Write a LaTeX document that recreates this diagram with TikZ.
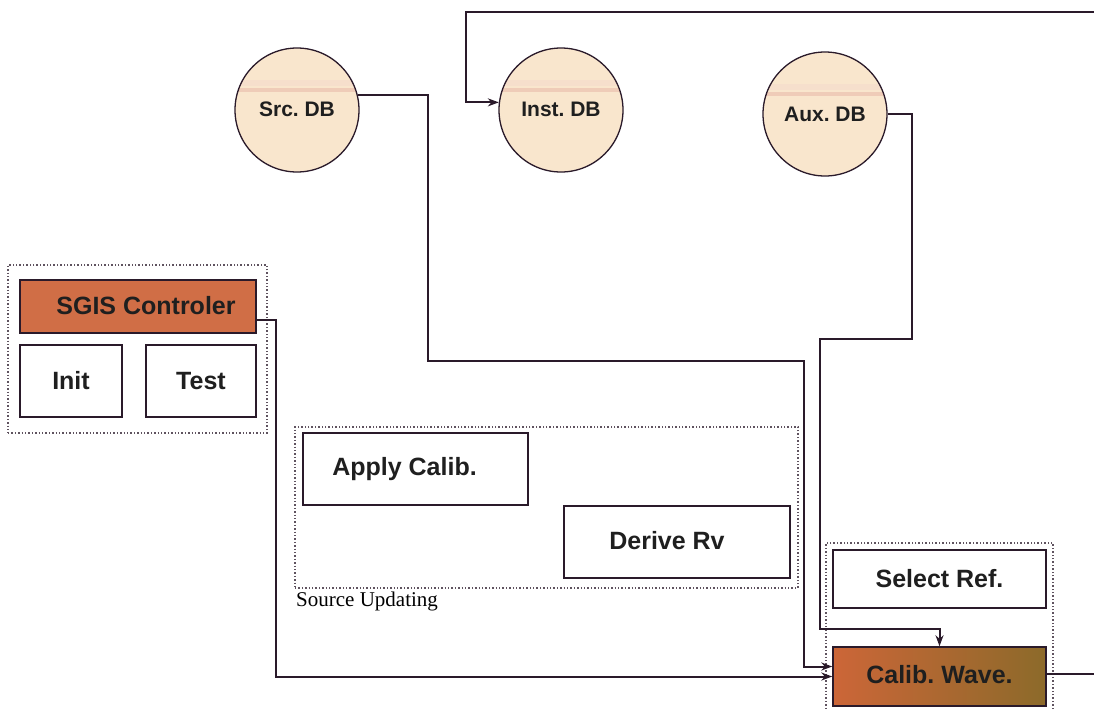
\documentclass[tikz,border=0pt]{standalone}
\usepackage{fontspec}
\setmainfont{Liberation Serif}
\setsansfont{Liberation Sans}
\usetikzlibrary{arrows.meta}
\frenchspacing
\definecolor{edge}{HTML}{2A1A2A}
\definecolor{dbfill}{HTML}{F9E6CD}
\definecolor{stripe}{HTML}{E8B8A8}
\definecolor{ctrl}{HTML}{D06E46}
\definecolor{calibL}{HTML}{CC6638}
\definecolor{calibR}{HTML}{8C6A2A}
\begin{document}
\begin{tikzpicture}[x=1pt,y=-1pt,
  lbl/.style={font=\sffamily\bfseries\fontsize{25}{29}\selectfont, text=black!88},
  box/.style={lbl, draw=edge, line width=1.5pt, fill=white, inner sep=0pt, rectangle},
  db/.style={circle, draw=edge, line width=1.3pt, fill=dbfill, minimum size=124pt, inner sep=0pt,
    font=\sffamily\bfseries\fontsize{21}{25}\selectfont, text=black!88,
    path picture={\fill[stripe,opacity=.55] ([yshift=18pt]path picture bounding box.center) ++(-70pt,0pt) rectangle ++(140pt,4pt);
                  \fill[stripe!60,opacity=.35] ([yshift=24pt]path picture bounding box.center) ++(-70pt,0pt) rectangle ++(140pt,6pt);}},
  grp/.style={draw=edge!75, dotted, line width=1.4pt, inner sep=0pt, rectangle},
  conn/.style={draw=edge, line width=2pt},
  arr/.style={conn, -{Stealth[length=11pt,width=8pt]}}]
\useasboundingbox (0,0) rectangle (1094,710);

% groups
\node[grp, minimum width=259pt, minimum height=168pt] (g1) at (137.5,349) {};
\node[grp, minimum width=503pt, minimum height=161pt] (g2) at (546.5,507.5) {};
\node[grp, minimum width=227pt, minimum height=177pt] (g3) at (939.5,631.5) {};
\node[font=\rmfamily\fontsize{21}{24}\selectfont, anchor=north west, inner sep=0pt] (lab) at (296,592) {Source Updating};

% databases
\node[db] (src) at (297,110) {\raisebox{1pt}{Src. DB}};
\node[db] (inst) at (561,110) {\raisebox{1pt}{Inst. DB}};
\node[db] (aux) at (825,114) {Aux. DB};

% boxes
\node[box, fill=ctrl, minimum width=236pt, minimum height=53pt] (sgis) at (138,306.5) {\raisebox{2pt}{\hspace{16pt}SGIS Controler}};
\node[box, minimum width=102pt, minimum height=72pt] (init) at (71,381) {Init};
\node[box, minimum width=110pt, minimum height=72pt] (test) at (201,381) {Test};
\node[box, minimum width=225pt, minimum height=72pt] (apply) at (415.5,469) {\raisebox{4pt}{Apply Calib.\hspace{22pt}}};
\node[box, minimum width=226pt, minimum height=72pt] (derive) at (677,542) {\raisebox{4pt}{Derive Rv\hspace{20pt}}};
\node[box, minimum width=213pt, minimum height=58pt] (select) at (939.5,579) {\raisebox{2pt}{Select Ref.}};
\node[box, left color=calibL, right color=calibR, minimum width=213pt, minimum height=59pt] (calib) at (939.5,676.5) {\raisebox{4pt}{Calib. Wave.}};

% connectors
\draw[arr] (src.14) -| (428,361) -| ([xshift=-28pt,yshift=10pt]calib.west) -- ([yshift=10pt]calib.west);
\draw[arr] ([yshift=-13pt]sgis.east) -| (276,676.5) -- (calib.west);
\draw[arr] (aux.east) -| (912,339) -| (820,629) -| (calib.north);
\draw[arr] ([yshift=3pt]calib.east) -- (1100,673.5) -- (1100,12) -| ([xshift=-33pt]inst.173) -- (inst.173);
\end{tikzpicture}
\end{document}
